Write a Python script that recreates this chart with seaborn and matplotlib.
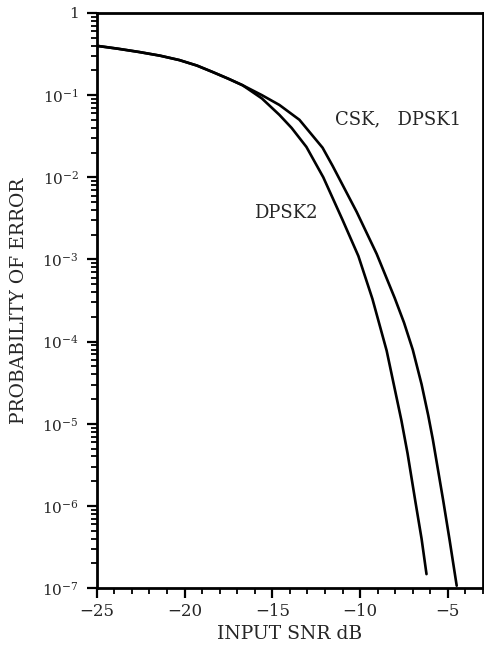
import matplotlib
matplotlib.use("Agg")
import matplotlib.pyplot as plt
import matplotlib.ticker as mticker
import numpy as np
import pandas as pd
import seaborn as sns

# ---- data ----
snr_dpsk2 = [-25.0, -23.8, -22.6, -21.4, -20.3, -19.3, -18.4, -17.5, -16.7, -15.6, -14.6, -13.9,
             -13.06, -12.1, -11.0, -10.1, -9.3, -8.49, -7.65, -7.3, -6.85, -6.5, -6.22]
pe_dpsk2 = [0.398, 0.367, 0.335, 0.302, 0.267, 0.229, 0.191, 0.158, 0.132, 0.0912, 0.0575, 0.0398,
            0.0234, 0.0100, 3.02e-3, 1.10e-3, 3.31e-4, 7.76e-5, 1.10e-5, 4.37e-6, 1.12e-6, 3.98e-7, 1.48e-7]

snr_csk = [-25.0, -23.8, -22.6, -21.4, -20.3, -19.3, -18.4, -17.5, -16.7, -15.6, -14.6, -13.46,
           -12.14, -11.57, -10.2, -9.06, -8.03, -7.5, -7.0, -6.5, -6.12, -5.86, -5.27, -4.9, -4.5]
pe_csk = [0.398, 0.367, 0.335, 0.302, 0.267, 0.229, 0.191, 0.158, 0.132, 0.100, 0.0759, 0.0501,
          0.0229, 0.0138, 3.80e-3, 1.17e-3, 3.39e-4, 1.70e-4, 7.94e-5, 3.02e-5, 1.26e-5, 6.46e-6,
          1.17e-6, 3.80e-7, 1.07e-7]

series_names = ["CSK,   DPSK1", "DPSK2"]
x_ticks = [-25, -20, -15, -10, -5]
x_tick_labels = ["\u221225", "\u221220", "\u221215", "\u221210", "\u22125"]
y_ticks = [1e-7, 1e-6, 1e-5, 1e-4, 1e-3, 1e-2, 1e-1, 1]
y_tick_labels = ["10$^{-7}$", "10$^{-6}$", "10$^{-5}$", "10$^{-4}$", "10$^{-3}$", "10$^{-2}$", "10$^{-1}$", "1"]

df = pd.concat([
    pd.DataFrame({"snr": snr_csk, "pe": pe_csk, "series": series_names[0]}),
    pd.DataFrame({"snr": snr_dpsk2, "pe": pe_dpsk2, "series": series_names[1]}),
], ignore_index=True)

sns.set_style("ticks")
plt.rcParams["font.family"] = ["DejaVu Serif"]
plt.rcParams["mathtext.fontset"] = "dejavuserif"

fig = plt.figure(figsize=(4.84, 6.47), dpi=100)
ax = fig.add_axes([0.200, 0.091, 0.798, 0.889])

sns.lineplot(data=df, x="snr", y="pe", hue="series", palette=["black", "black"],
             linewidth=1.9, legend=False, ax=ax, sort=False, estimator=None)

ax.set_yscale("log")
ax.set_xlim(-25, -3)
ax.set_ylim(1e-7, 1)

ax.set_xticks(x_ticks)
ax.set_xticklabels(x_tick_labels, fontsize=12)
ax.xaxis.set_minor_locator(mticker.MultipleLocator(1))
ax.set_yticks(y_ticks)
ax.set_yticklabels(y_tick_labels, fontsize=11)
ax.yaxis.set_minor_locator(mticker.LogLocator(base=10, subs=np.arange(2, 10), numticks=20))
ax.yaxis.set_minor_formatter(mticker.NullFormatter())

ax.tick_params(axis="both", which="major", direction="out", length=7, width=1.6, color="black", pad=4)
ax.tick_params(axis="both", which="minor", direction="out", length=4, width=1.3, color="black")
ax.tick_params(axis="y", which="major", pad=6)

for s in ax.spines.values():
    s.set_linewidth(2.0)
    s.set_color("black")

ax.set_xlabel("INPUT SNR dB", fontsize=13.5, labelpad=3)
ax.set_ylabel("PROBABILITY OF ERROR", fontsize=13.5, labelpad=10)

ax.text(-11.46, 0.05, series_names[0], fontsize=13, ha="left", va="center")
ax.text(-16.03, 3.7e-3, series_names[1], fontsize=13, ha="left", va="center")

fig.savefig("out.png", dpi=100)
